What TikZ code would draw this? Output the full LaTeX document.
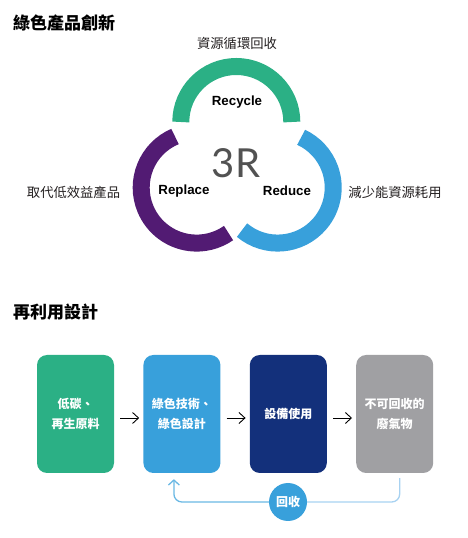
\documentclass[tikz,border=0pt]{standalone}
\usepackage{fontspec}
\setmainfont{Liberation Sans}
\newfontfamily\cjk{Noto Sans CJK TC}
\newfontfamily\numfont{Lato}
\usetikzlibrary{positioning,calc,arrows.meta}

\definecolor{rgreen}{HTML}{2BB085}
\definecolor{rpurple}{HTML}{521B73}
\definecolor{rblue}{HTML}{38A0DB}
\definecolor{rnavy}{HTML}{13307B}
\definecolor{rgray}{HTML}{A0A0A3}
\definecolor{rlight}{HTML}{A8D2F1}
\definecolor{rink}{HTML}{231F20}

\begin{document}
\begin{tikzpicture}[x=1pt,y=1pt,
	ring/.style={line width=17pt},
	title/.style={anchor=west, inner sep=0pt, text=black, font=\cjk\bfseries\fontsize{17}{20}\selectfont},
	side/.style={inner sep=0pt, text=rink, font=\cjk\fontsize{13.3}{16}\selectfont},
	rname/.style={inner sep=0pt, text=black, font=\bfseries\fontsize{13.3}{16}\selectfont},
	box/.style={rounded corners=10pt, minimum width=77pt, minimum height=118pt, inner sep=2pt, text=white, align=center, font=\cjk\bfseries\fontsize{12}{20}\selectfont},
	flow/.style={-{Straight Barb[length=6pt,width=11pt]}, line width=0.9pt, shorten <=6pt, shorten >=4pt},
	back/.style={line width=1.3pt, rounded corners=8pt}]
				\useasboundingbox (0,0) rectangle (468,538);
				% 3R rings
				\coordinate (cy) at (236.3,416);
				\coordinate (cp) at (196.7,350.4);
				\coordinate (cr) at (277.7,350.4);
				\draw[ring, rgreen] ($(cy)+(0:55.5)$) arc[start angle=0, end angle=180, radius=55.5];
				\draw[ring, rpurple] ($(cp)+(113:55.5)$) arc[start angle=113, end angle=305, radius=55.5];
				\draw[ring, rblue] ($(cr)+(230:55.5)$) arc[start angle=230, end angle=425, radius=55.5];
				\node[title] (t1) at (13,515) {綠色產品創新};
				\node[side] (s1) at (237,495) {資源循環回收};
				\node[side] (s2) at (73.5,346) {取代低效益產品};
				\node[side] (s3) at (395,346) {減少能資源耗用};
				\node[inner sep=0pt, text=black!68, font=\numfont\fontsize{40}{40}\selectfont] (r3) at (236,375) {3R};
				\node[rname] (rc) at (237,436) {Recycle};
				\node[rname] (rp) at (184,347) {Replace};
				\node[rname] (rd) at (287,347) {Reduce};
				% reuse chain
				\node[title] (t2) at (13,226) {再利用設計};
				\node[box, fill=rgreen] (b1) at (75.5,124) {低碳、\\再生原料};
				\node[box, fill=rblue, right=29pt of b1] (b2) {綠色技術、\\綠色設計};
				\node[box, fill=rnavy, right=29pt of b2] (b3) {設備使用};
				\node[box, fill=rgray, right=29pt of b3] (b4) {不可回收的\\廢氣物};
				\draw[flow] ([yshift=-4pt]b1.east) -- ([yshift=-4pt]b2.west);
				\draw[flow] ([yshift=-4pt]b2.east) -- ([yshift=-4pt]b3.west);
				\draw[flow] ([yshift=-4pt]b3.east) -- ([yshift=-4pt]b4.west);
				\node[circle, fill=rblue, minimum size=38pt, inner sep=0pt, text=white, font=\cjk\bfseries\fontsize{12}{14}\selectfont] (ret) at (288,36) {回收};
				\draw[back, rlight] ([xshift=5pt,yshift=-5pt]b4.south) |- (ret);
				\draw[back, rblue!75, -{Straight Barb[length=5pt,width=11pt]}] (ret) -| ([xshift=-8pt,yshift=-6pt]b2.south);
\end{tikzpicture}
\end{document}
